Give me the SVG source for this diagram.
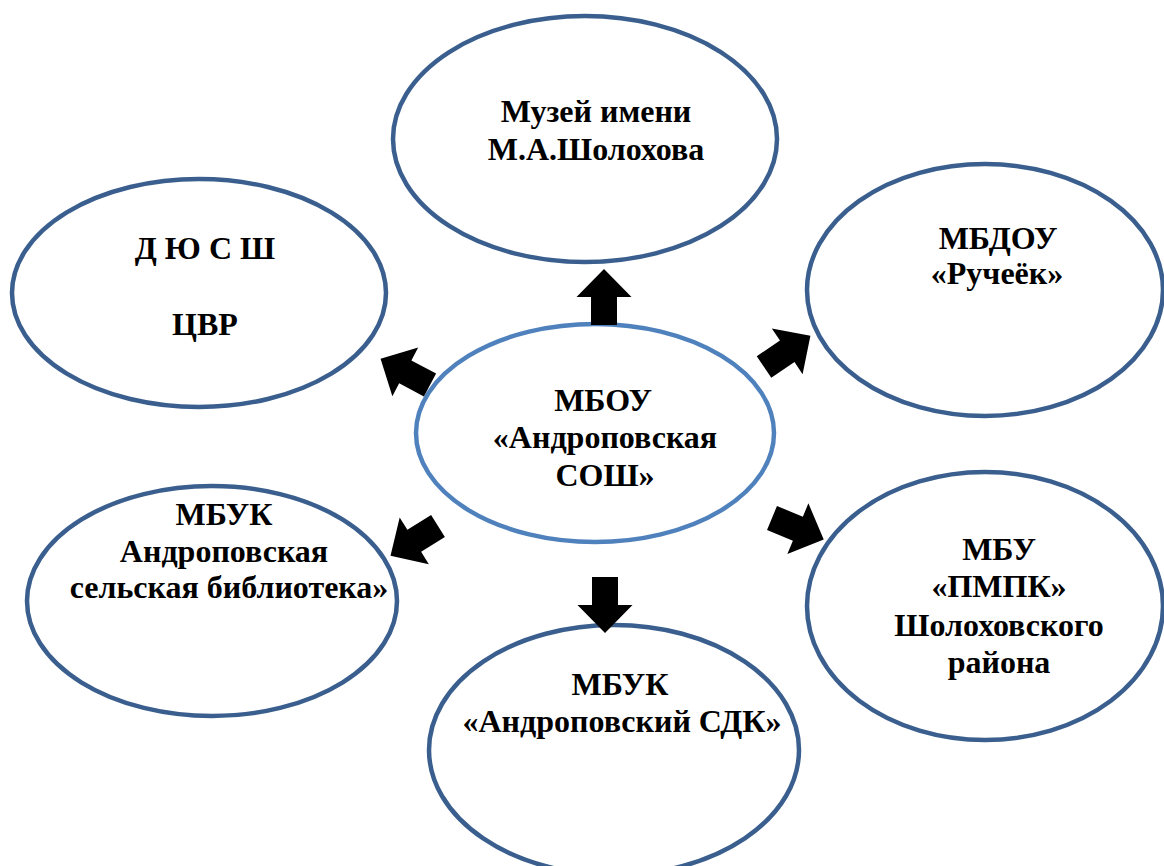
<svg xmlns="http://www.w3.org/2000/svg" width="1164" height="866" viewBox="0 0 1164 866">
<style>
.node ellipse{fill:#fff;stroke:#3a5f8e;stroke-width:4.5}
#center ellipse{stroke:#4f81bd;stroke-width:4.5}
text{font-family:"Liberation Serif","Times New Roman",serif;font-weight:bold;font-size:32px;fill:#000;text-anchor:middle}
.arr{fill:#000}
</style>
<defs>
<polygon id="arrow" points="0,-13 28,-13 28,-27.5 56,0 28,27.5 28,13 0,13"/>
</defs>
<rect width="1164" height="866" fill="#fff"/>
<g id="museum" class="node">
<ellipse cx="585" cy="139" rx="192" ry="123"/>
<text x="596" y="122">Музей имени</text>
<text x="596" y="160">М.А.Шолохова</text>
</g>
<g id="dyussh" class="node">
<ellipse cx="199" cy="293" rx="187" ry="114"/>
<text x="205" y="259">Д Ю С Ш</text>
<text x="205" y="335">ЦВР</text>
</g>
<g id="mbdou" class="node">
<ellipse cx="985" cy="290" rx="178" ry="126"/>
<text x="998" y="249">МБДОУ</text>
<text x="997" y="284">«Ручеёк»</text>
</g>
<g id="library" class="node">
<ellipse cx="212" cy="601" rx="185" ry="115"/>
<text x="224" y="525">МБУК</text>
<text x="224" y="562">Андроповская</text>
<text x="229" y="598">сельская библиотека»</text>
</g>
<g id="sdk" class="node">
<ellipse cx="614" cy="750" rx="185" ry="125"/>
<text x="620" y="695">МБУК</text>
<text x="622" y="732">«Андроповский СДК»</text>
</g>
<g id="pmpk" class="node">
<ellipse cx="985" cy="606" rx="178" ry="134"/>
<text x="999" y="560">МБУ</text>
<text x="999" y="597">«ПМПК»</text>
<text x="999" y="636">Шолоховского</text>
<text x="999" y="673">района</text>
</g>
<g id="center" class="node">
<ellipse cx="595" cy="433" rx="179" ry="109"/>
<text x="603" y="411">МБОУ</text>
<text x="605" y="448">«Андроповская</text>
<text x="605" y="486">СОШ»</text>
</g>
<g id="connectors" class="arr">
<use href="#arrow" transform="translate(604,325) rotate(-90)"/>
<use href="#arrow" transform="translate(605,577) rotate(90)"/>
<use href="#arrow" transform="translate(430,385) rotate(208)"/>
<use href="#arrow" transform="translate(764,367) rotate(-34)"/>
<use href="#arrow" transform="translate(438,526) rotate(148)"/>
<use href="#arrow" transform="translate(772,518) rotate(22.5)"/>
</g>
</svg>
